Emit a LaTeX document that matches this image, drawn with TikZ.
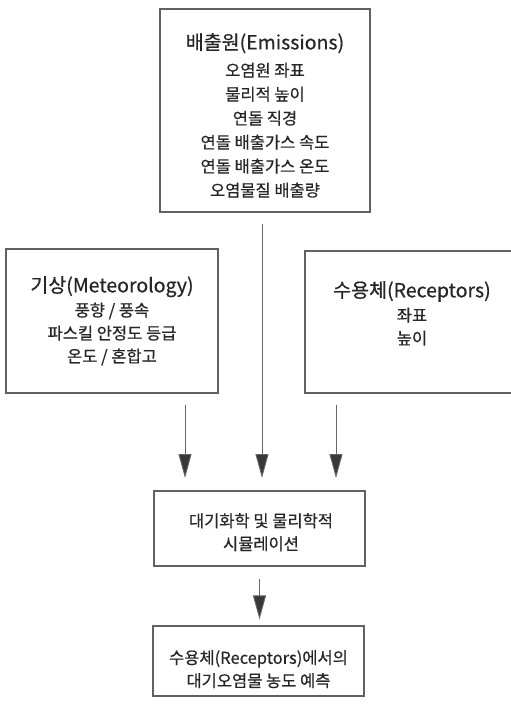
\documentclass[tikz,border=0pt]{standalone}
\usepackage{fontspec}
\setmainfont{Noto Sans CJK KR}[UprightFeatures={FakeBold=0.5}]
\usetikzlibrary{arrows.meta}

\begin{document}
\begin{tikzpicture}[x=1pt,y=1pt,>={Triangle[length=24pt,width=13pt,fill=black!78]},
  box/.style={draw=black!62,line width=1.1pt,inner sep=0pt},
  txt/.style={anchor=north,inner sep=0pt,align=center,text=black!85,font=\fontsize{16.5}{23}\selectfont},
  flow/.style={->,draw=black!60,line width=0.9pt,shorten <=11pt}]
\useasboundingbox[fill=white] (0,0) rectangle (511,-705);
% boxes
\node[box,minimum width=210pt,minimum height=203pt] (emis) at (265,-110.5) {};
\node[box,minimum width=212pt,minimum height=144pt] (met) at (112,-321) {};
\node[box,minimum width=210pt,minimum height=142pt] (rec) at (410,-322) {};
\node[box,minimum width=211pt,minimum height=75pt] (sim) at (259.5,-528.5) {};
\node[box,minimum width=211pt,minimum height=70pt] (pred) at (258.5,-661) {};
% texts
\node[txt,font=\fontsize{16.5}{24}\selectfont] (emis-t) at (265,-33)
  {{\fontsize{19.5}{24}\selectfont 배출원(Emissions)}\\[3pt]오염원 좌표\\물리적 높이\\연돌 직경\\연돌 배출가스 속도\\연돌 배출가스 온도\\오염물질 배출량};
\node[txt] (met-t) at (112,-276)
  {{\fontsize{19.5}{23}\selectfont 기상(Meteorology)}\\[1pt]풍향 / 풍속\\파스킬 안정도 등급\\온도 / 혼합고};
\node[txt] (rec-t) at (412,-281)
  {{\fontsize{19.5}{23}\selectfont 수용체(Receptors)}\\[1pt]좌표\\높이};
\node[txt] (sim-t) at (261,-513) {대기화학 및 물리학적\\시뮬레이션};
\node[txt] (pred-t) at (258.5,-650) {수용체(Receptors)에서의\\대기오염물 농도 예측};
% connectors
\coordinate (inL) at (185,-478);
\coordinate (inM) at (262,-478);
\coordinate (inR) at (336,-478);
\foreach \src/\tip in {met/inL,emis/inM,rec/inR} \draw[flow] (\src.south -| \tip) -- (\tip);
\draw[flow,shorten <=12pt,shorten >=6pt] (sim.south) -- (sim.south |- pred.north);
\end{tikzpicture}
\end{document}
